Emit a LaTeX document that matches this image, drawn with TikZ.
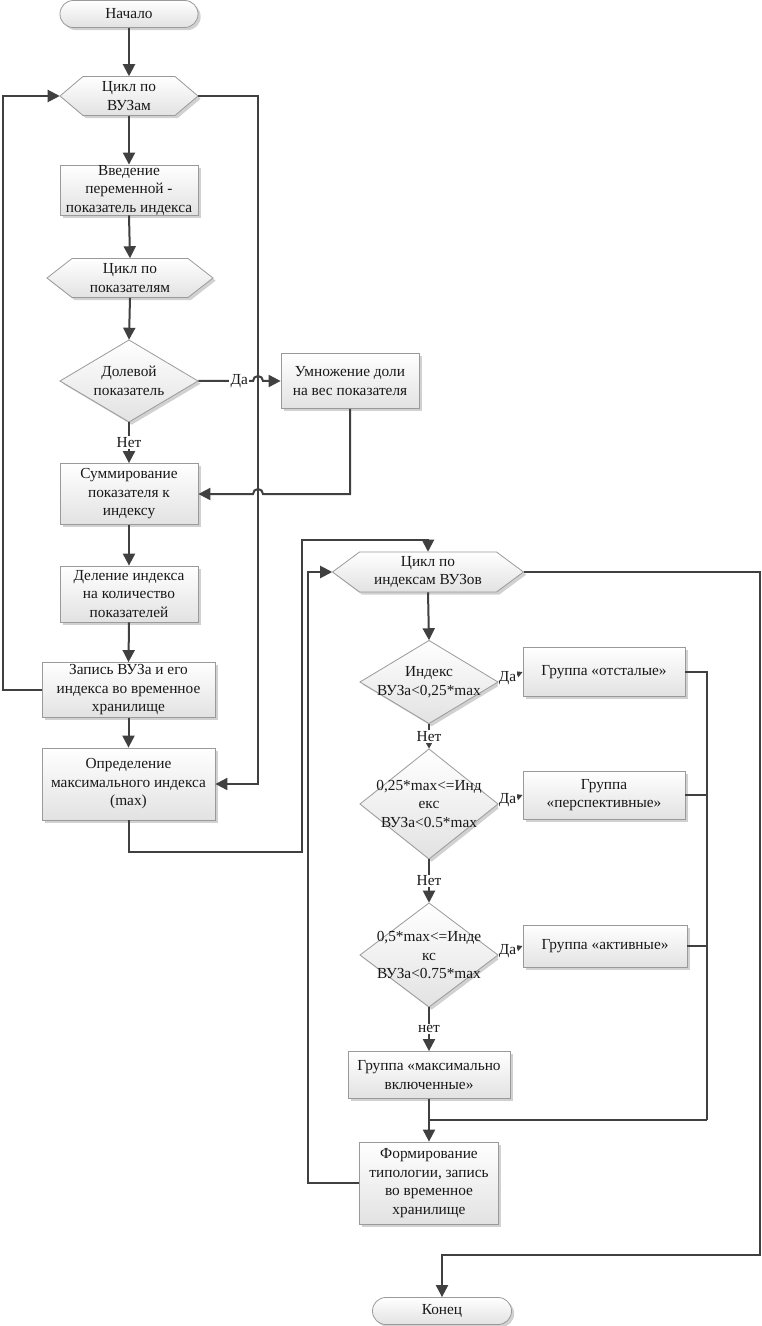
\documentclass[tikz,border=0pt]{standalone}
\usepackage{fontspec}
\setmainfont{Liberation Serif}
\usetikzlibrary{arrows.meta,shadows,calc}
\definecolor{ln}{HTML}{404040}
\definecolor{bd}{HTML}{9A9A9A}
\definecolor{fillb}{HTML}{E2E2E2}
\tikzset{
  base/.style={inner sep=0pt, align=center, font=\fontsize{11.5}{13.9}\selectfont, text=black!90},
  shp/.style={draw=bd, line width=0.6pt, top color=white, bottom color=fillb,
     drop shadow={shadow xshift=2pt, shadow yshift=-2pt, fill=black, opacity=0.18}},
  procbox/.style={base, shp, rectangle},
  termbox/.style={base, shp, rectangle, rounded corners=10pt},
  ghost/.style={base, rectangle, draw=none},
  conn/.style={draw=ln, line width=1.5pt},
  arr/.style={conn, -{Triangle[length=9pt,width=9pt]}},
  sarr/.style={conn, -{Triangle[length=4.5pt,width=4.5pt]}},
  lbl/.style={base, fill=white, inner sep=1pt},
}
% hexagon: name, x, y, w, h, inset, text
\newcommand{\myhex}[7]{%
  \path[shp] (#2-#4/2,#3) -- (#2-#4/2+#6,#3-#5/2) -- (#2+#4/2-#6,#3-#5/2) -- (#2+#4/2,#3)
     -- (#2+#4/2-#6,#3+#5/2) -- (#2-#4/2+#6,#3+#5/2) -- cycle;
  \node[ghost, minimum width=#4*0.75pt, minimum height=#5*0.75pt] (#1) at (#2,#3) {#7};}
% diamond: name, x, y, w, h, text
\newcommand{\mydia}[6]{%
  \path[shp] (#2-#4/2,#3) -- (#2,#3-#5/2) -- (#2+#4/2,#3) -- (#2,#3+#5/2) -- cycle;
  \node[ghost, minimum width=#4*0.75pt, minimum height=#5*0.75pt] (#1) at (#2,#3) {#6};}
\begin{document}
\begin{tikzpicture}[x=0.75pt,y=-0.75pt]
\useasboundingbox (0,0) rectangle (761,1326);
\fill[white] (0,0) rectangle (761,1326);

% ---------- left column ----------
\node[termbox, minimum width=138*0.75pt, minimum height=27*0.75pt] (nach) at (129,14) {Начало};
\myhex{c1}{129}{96}{138}{39}{23}{Цикл по\\ВУЗам}
\node[procbox, minimum width=138*0.75pt, minimum height=50*0.75pt] (vved) at (129,190) {Введение\\переменной -\\показатель индекса};
\myhex{c2}{130}{278}{166}{39}{25}{Цикл по\\показателям}
\mydia{dol}{129}{381}{138}{82}{Долевой\\показатель}
\node[procbox, minimum width=138*0.75pt, minimum height=55*0.75pt] (umn) at (350,381) {Умножение доли\\на вес показателя};
\node[procbox, minimum width=138*0.75pt, minimum height=61*0.75pt] (sum) at (129,494) {Суммирование\\показателя к\\индексу};
\node[procbox, minimum width=138*0.75pt, minimum height=56*0.75pt] (del) at (129,594) {Деление индекса\\на количество\\показателей};
\node[procbox, minimum width=173*0.75pt, minimum height=55*0.75pt] (zap) at (128.5,690) {Запись ВУЗа и его\\индекса во временное\\хранилище};
\node[procbox, minimum width=173*0.75pt, minimum height=72*0.75pt] (opr) at (128.5,784) {Определение\\максимального индекса\\(max)};

% ---------- right column ----------
\myhex{c3}{428}{572}{191}{40}{27}{Цикл по\\индексам ВУЗов}
\mydia{d1}{429}{682}{138}{83}{Индекс\\ВУЗа<0,25*max}
\node[procbox, minimum width=162*0.75pt, minimum height=49*0.75pt] (ots) at (604,672) {Группа «отсталые»};
\mydia{d2}{429}{804}{138}{110}{0,25*max<=Инд\\екс\\ВУЗа<0.5*max}
\node[procbox, minimum width=162*0.75pt, minimum height=48*0.75pt] (per) at (604,795) {Группа\\«перспективные»};
\mydia{d3}{429}{955}{138}{104}{0,5*max<=Инде\\кс\\ВУЗа<0.75*max}
\node[procbox, minimum width=164*0.75pt, minimum height=42*0.75pt] (akt) at (605,946) {Группа «активные»};
\node[procbox, minimum width=162*0.75pt, minimum height=47*0.75pt] (maxg) at (429,1075) {Группа «максимально\\включенные»};
\node[procbox, minimum width=139*0.75pt, minimum height=82*0.75pt] (form) at (429,1183) {Формирование\\типологии, запись\\во временное\\хранилище};
\node[termbox, minimum width=139*0.75pt, minimum height=27*0.75pt] (kon) at (442,1311) {Конец};

% ---------- connectors, left ----------
\draw[arr] (nach.south) -- (c1.north);
\draw[arr] (c1.south) -- (vved.north);
\draw[arr] (vved.south) -- (c2.north);
\draw[arr] (c2.south) -- (dol.north);
\draw[arr] (dol.south) -- node[lbl]{Нет} (sum.north);
\draw[arr] (sum.south) -- (del.north);
\draw[arr] (del.south) -- (zap.north);
\draw[arr] (zap.south) -- (opr.north);
\coordinate (lx) at (2.5,690);
\draw[arr] (zap.west) -- (lx) |- (c1.west);
\coordinate (rx) at (258,96);
\draw[arr] (c1.east) -- (rx) |- (opr.east);
\draw[arr] (dol.east) -- node[lbl, pos=0.75]{Да} (253,381) arc[start angle=180, end angle=360, radius=5] -- (umn.west);
\draw[arr] (umn.south) |- (263,494) arc[start angle=0, end angle=-180, radius=5] -- (sum.east);
\coordinate (b1) at (128.5,852);
\coordinate (b2) at (302,852);
\coordinate (b3) at (302,540);
\draw[arr] (opr.south) -- (b1) -- (b2) -- (b3) -| (c3.north);

% ---------- connectors, right ----------
\draw[arr] (c3.south) -- (d1.north);
\draw[sarr] (d1.south) -- node[lbl]{Нет} (d2.north);
\draw[arr] (d2.south) -- node[lbl]{Нет} (d3.north);
\draw[arr] (d3.south) -- node[lbl]{нет} (maxg.north);
\draw[sarr] (d1.east) -- (ots.west);
\node[lbl, inner sep=0.5pt] (y1) at ($(d1.east)!0.38!(ots.west)$) {Да};
\draw[sarr] (d2.east) -- (per.west);
\node[lbl, inner sep=0.5pt] (y2) at ($(d2.east)!0.38!(per.west)$) {Да};
\draw[sarr] (d3.east) -- (akt.west);
\node[lbl, inner sep=0.5pt] (y3) at ($(d3.east)!0.38!(akt.west)$) {Да};
\coordinate (mrg) at (707,1120);
\coordinate (join) at (429,1120);
\draw[conn] (ots.east) -| (mrg);
\draw[conn] (per.east) -- (per.east -| mrg);
\draw[conn] (akt.east) -- (akt.east -| mrg);
\draw[conn] (mrg) -- (join);
\draw[conn] (maxg.south) -- (join);
\draw[arr] (join) -- (form.north);
\coordinate (fl) at (308,1183);
\draw[arr] (form.west) -- (fl) |- (c3.west);
\coordinate (e1) at (759.5,572);
\coordinate (e2) at (759.5,1255);
\draw[arr] (c3.east) -- (e1) -- (e2) -| (kon.north);
\end{tikzpicture}
\end{document}
